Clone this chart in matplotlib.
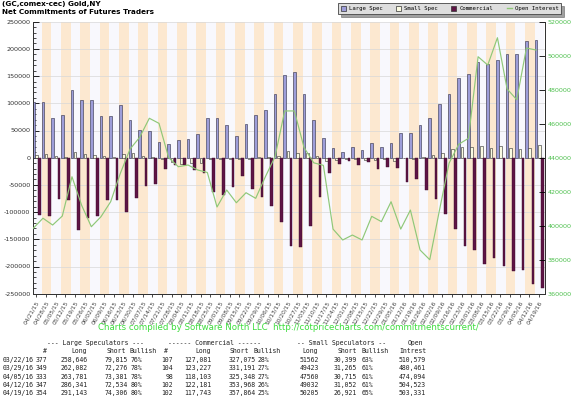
import numpy as np
import matplotlib
matplotlib.use("Agg")
import matplotlib.pyplot as plt
from matplotlib.patches import Patch
from matplotlib.lines import Line2D
from matplotlib.ticker import MultipleLocator

# weekly report dates
dates = ["04/21/15", "04/28/15", "05/05/15", "05/12/15", "05/19/15", "05/26/15", "06/02/15",
         "06/09/15", "06/16/15", "06/23/15", "06/30/15", "07/07/15", "07/14/15", "07/21/15",
         "07/28/15", "08/04/15", "08/11/15", "08/18/15", "08/25/15", "09/01/15", "09/08/15",
         "09/15/15", "09/22/15", "09/29/15", "10/06/15", "10/13/15", "10/20/15", "10/27/15",
         "11/03/15", "11/10/15", "11/17/15", "11/24/15", "12/01/15", "12/08/15", "12/15/15",
         "12/22/15", "12/29/15", "01/05/16", "01/12/16", "01/19/16", "01/26/16", "02/02/16",
         "02/09/16", "02/16/16", "02/23/16", "03/01/16", "03/08/16", "03/15/16", "03/22/16",
         "03/29/16", "04/05/16", "04/12/16", "04/19/16"]

# net positions (contracts)
large_spec = [102000, 103000, 73500, 78400, 123900, 105500, 105500, 76000, 77200, 96900,
              68700, 51500, 49000, 29400, 25700, 32000, 33800, 43000, 72400, 73500,
              60100, 40400, 61400, 78400, 87100, 117600, 152000, 158100, 116500, 69300,
              35700, 17300, 11000, 20200, 14100, 27000, 20200, 27000, 46000, 44700,
              60100, 72400, 98700, 117600, 145900, 153300, 175300, 171700, 178831, 189806,
              190400, 213807, 216837]
small_spec = [4900, 6700, 3000, 1800, 11000, 6700, 4900, 3700, 1200, 6700,
              9200, 2400, 1200, -3000, -7000, -12000, -10000, -9000, -2000, -2000,
              -2000, -3000, -2000, 500, 2000, 3000, 13000, 9500, 9000, 3700,
              -5500, -4000, -3000, -2000, -4000, -4000, -3000, -5500, -1000, -2000,
              800, 5000, 8000, 16000, 19000, 20000, 21000, 17000, 21163, 18158,
              16845, 17980, 23284]
commercial = [-105300, -106500, -75400, -77800, -132900, -110300, -107200, -77800, -77800, -100400,
              -74800, -52000, -48400, -21300, -13600, -13000, -22300, -28700, -62500, -68600,
              -54400, -33100, -56800, -72800, -88200, -117600, -162300, -164700, -125000, -71700,
              -27600, -12300, -6600, -12900, -8600, -20000, -16300, -19000, -44100, -39600,
              -59400, -76500, -104100, -131600, -162300, -169600, -195400, -184900, -199994, -207964,
              -207245, -231787, -240121]
open_interest = [398500, 404400, 400400, 405700, 428800, 412000, 399400, 405300, 414100, 430800,
                 445000, 452000, 463200, 460200, 440000, 434700, 435700, 432800, 431300, 411000,
                 421000, 413500, 419400, 416100, 428800, 440600, 467500, 467500, 446000, 437000,
                 435500, 398000, 391600, 394500, 391600, 405500, 402400, 414100, 398000, 409200,
                 385700, 380000, 409000, 436800, 447900, 451400, 499400, 494500, 510579, 480461,
                 474094, 504523, 503331]

# table under the chart
tbl_dates = ["03/22/16", "03/29/16", "04/05/16", "04/12/16", "04/19/16"]
ls_count = [377, 349, 333, 347, 354]
ls_long = [258646, 262082, 263781, 286341, 291143]
ls_short = [79815, 72276, 73381, 72534, 74306]
ls_bull = [76, 78, 78, 80, 80]
cm_count = [107, 104, 98, 102, 102]
cm_long = [127081, 123227, 118103, 122181, 117743]
cm_short = [327075, 331191, 325348, 353968, 357864]
cm_bull = [28, 27, 27, 26, 25]
ss_long = [51562, 49423, 47560, 49032, 50205]
ss_short = [30399, 31265, 30715, 31052, 26921]
ss_bull = [63, 61, 61, 61, 65]
oi_tbl = [510579, 480461, 474094, 504523, 503331]

W, H = 576, 397
C_LARGE = "#9d9dd9"
C_SMALL = "#fbfbe2"
C_COMM = "#5e1445"
C_OI = "#8fc878"
C_GREEN = "#4cbf4c"


def fx(x):
    return x / W


def fy(y):
    return 1 - y / H


fig = plt.figure(figsize=(W / 100, H / 100), dpi=100)
ax = fig.add_axes([fx(33.3), fy(293.7), fx(545) - fx(33.3), fy(21.7) - fy(293.7)])

n = len(dates)
x = np.arange(n)

# alternating week stripes
for i in range(n):
    ax.axvspan(i - 0.15, i + 0.85, color="#fce8d0" if i % 2 else "#f8f8fd", lw=0, zorder=0)

ax.set_ylim(-250000, 250000)
ax.set_xlim(0, 52.92)
ax.yaxis.set_major_locator(MultipleLocator(50000))
ax.yaxis.set_minor_locator(MultipleLocator(10000))
ax.grid(axis="y", color="#d8d8d8", lw=0.5, zorder=1)
ax.set_axisbelow(True)

bw = 0.27
ax.bar(x, large_spec, width=bw, color=C_LARGE, edgecolor="#2a2a44", lw=0.4, zorder=3)
ax.bar(x + 0.33, small_spec, width=bw, color=C_SMALL, edgecolor="#2a2a2a", lw=0.4, zorder=3)
ax.bar(x + 0.66, commercial, width=bw, color=C_COMM, edgecolor="#3a0a2a", lw=0.3, zorder=3)

ax2 = ax.twinx()
ax2.set_ylim(360000, 520000)
ax2.plot(x, open_interest, color=C_OI, lw=0.85, zorder=4)
ax2.yaxis.set_major_locator(MultipleLocator(20000))

for a in (ax, ax2):
    a.spines["top"].set_visible(False)
    for s in ("left", "right", "bottom"):
        a.spines[s].set_color("#333333")
        a.spines[s].set_linewidth(0.7)

ax.tick_params(axis="y", which="major", direction="in", length=4, width=0.6,
               labelsize=4.6, labelcolor="#333333", pad=2)
ax.tick_params(axis="y", which="minor", direction="in", length=2, width=0.5)
ax.yaxis.set_major_formatter(matplotlib.ticker.FormatStrFormatter("%d"))
ax2.tick_params(axis="y", direction="in", length=4, width=0.6,
                labelsize=4.6, labelcolor=C_GREEN, pad=2)
ax2.yaxis.set_major_formatter(matplotlib.ticker.FormatStrFormatter("%d"))

ax.set_xticks(x + 0.3)
ax.set_xticklabels(dates, rotation=60, ha="right", rotation_mode="anchor",
                   fontsize=4.2, color="#444444")
ax.tick_params(axis="x", direction="out", length=2.5, width=0.5, pad=2)

# legend
handles = [Patch(facecolor=C_LARGE, edgecolor="#333333", lw=0.5, label="Large Spec"),
           Patch(facecolor=C_SMALL, edgecolor="#333333", lw=0.5, label="Small Spec"),
           Patch(facecolor=C_COMM, edgecolor="#333333", lw=0.5, label="Commercial"),
           Line2D([0], [0], color=C_OI, lw=1, label="Open Interest")]
leg = fig.legend(handles=handles, loc="upper right", bbox_to_anchor=(fx(564), fy(0.5)),
                 ncol=4, frameon=True, fancybox=False, shadow=True,
                 handlelength=0.9, handleheight=0.9, handletextpad=0.5,
                 columnspacing=2.4, borderpad=0.45,
                 prop={"family": "DejaVu Sans Mono", "size": 4.1})
leg.get_frame().set_facecolor("#dedede")
leg.get_frame().set_edgecolor("#444444")
leg.get_frame().set_linewidth(0.6)

# titles
fig.text(fx(2), fy(4.3), "(GC,comex-cec) Gold,NY", fontsize=5.2, weight="bold", va="center")
fig.text(fx(2), fy(12.2), "Net Commitments of Futures Traders", fontsize=5.2, weight="bold", va="center")

fig.text(fx(288), fy(328), "Charts compiled by Software North LLC  http://cotpricecharts.com/commitmentscurrent/",
         fontsize=6.2, color="#3ddc3d", ha="center", va="center")

# summary table
mono = {"family": "DejaVu Sans Mono", "size": 4.7, "color": "#222222", "va": "center"}


def put(xp, yp, s, ha="left"):
    fig.text(fx(xp), fy(yp), s, ha=ha, **mono)


put(47, 342.7, "--- Large Speculators ---")
put(168, 342.7, "------ Commercial ------")
put(297, 342.7, "-- Small Speculators --")
put(423, 342.7, "Open", ha="right")
for xp, s, ha in [(47, "#", "right"), (87, "Long", "right"), (126, "Short", "right"),
                  (130, "Bullish", "left"), (168, "#", "right"), (211, "Long", "right"),
                  (249, "Short", "right"), (253, "Bullish", "left"), (318, "Long", "right"),
                  (357, "Short", "right"), (361, "Bullish", "left"), (426, "Intrest", "right")]:
    put(xp, 351.3, s, ha)

for r in range(len(tbl_dates)):
    yp = 360 + 8.35 * r
    put(3, yp, tbl_dates[r])
    put(47, yp, str(ls_count[r]), "right")
    put(88, yp, f"{ls_long[r]:,}", "right")
    put(128, yp, f"{ls_short[r]:,}", "right")
    put(131, yp, f"{ls_bull[r]}%")
    put(173, yp, str(cm_count[r]), "right")
    put(211, yp, f"{cm_long[r]:,}", "right")
    put(256, yp, f"{cm_short[r]:,}", "right")
    put(258, yp, f"{cm_bull[r]}%")
    put(319, yp, str(ss_long[r]), "right")
    put(357, yp, f"{ss_short[r]:,}", "right")
    put(362, yp, f"{ss_bull[r]}%")
    put(426, yp, f"{oi_tbl[r]:,}", "right")

fig.savefig("out.png", dpi=100)
